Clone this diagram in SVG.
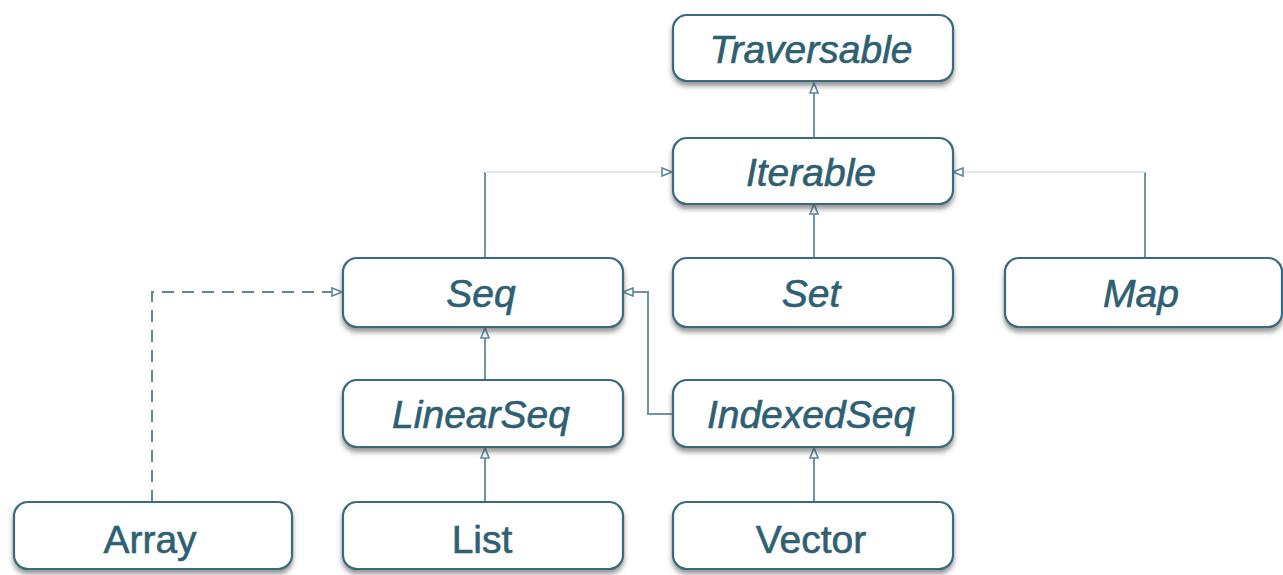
<svg xmlns="http://www.w3.org/2000/svg" width="1283" height="575" viewBox="0 0 1283 575">
<style>
.box{fill:#fff;stroke:#3b6b7c;stroke-width:2.2;filter:url(#sh)}
.t{font-family:"Liberation Sans",Arial,sans-serif;font-size:39px;fill:#2e5f72;stroke:#2e5f72;stroke-width:0.6;text-anchor:middle}
.i{font-style:italic}
.v{fill:none;stroke:#6f95a3;stroke-width:2}
.h{fill:none;stroke:#e2eaed;stroke-width:2}
.d{fill:none;stroke:#5f8797;stroke-width:2;stroke-dasharray:12 8}
</style>
<defs>
<filter id="sh" x="-10%" y="-20%" width="120%" height="150%">
<feDropShadow dx="0" dy="4" stdDeviation="2.5" flood-color="#404040" flood-opacity="0.55"/>
</filter>
<marker id="tri" markerWidth="12" markerHeight="10" refX="11" refY="5" orient="auto" markerUnits="userSpaceOnUse">
<path d="M1,1 L11,5 L1,9 Z" fill="#fff" stroke="#5f8797" stroke-width="1.6"/>
</marker>
</defs>
<g id="connectors">
<path class="v" d="M814,138 L814,83" marker-end="url(#tri)"/>
<path class="v" d="M485,258 L485,172"/>
<path class="h" d="M485,172 L672,172"/>
<path d="M660,172 L672,172" fill="none" stroke="none" marker-end="url(#tri)"/>
<path class="v" d="M1145,258 L1145,172"/>
<path class="h" d="M1145,172 L953,172"/>
<path d="M965,172 L953,172" fill="none" stroke="none" marker-end="url(#tri)"/>
<path class="v" d="M814,258 L814,204" marker-end="url(#tri)"/>
<path class="d" d="M152,502 L152,292 L342,292" marker-end="url(#tri)"/>
<path class="v" d="M485,380 L485,328" marker-end="url(#tri)"/>
<path class="v" d="M673,414 L648,414 L648,292 L623,292" marker-end="url(#tri)"/>
<path class="v" d="M485,502 L485,448" marker-end="url(#tri)"/>
<path class="v" d="M814,502 L814,448" marker-end="url(#tri)"/>
</g>
<g id="traversable"><rect class="box" x="673" y="15" width="280" height="66" rx="14"/><text class="t i" x="811" y="63">Traversable</text></g>
<g id="iterable"><rect class="box" x="673" y="138" width="280" height="66" rx="14"/><text class="t i" x="811" y="186">Iterable</text></g>
<g id="seq"><rect class="box" x="343" y="258" width="280" height="69" rx="14"/><text class="t i" x="481" y="307">Seq</text></g>
<g id="set"><rect class="box" x="673" y="258" width="280" height="69" rx="14"/><text class="t i" x="811" y="307">Set</text></g>
<g id="map"><rect class="box" x="1005" y="258" width="277" height="69" rx="14"/><text class="t i" x="1141" y="307">Map</text></g>
<g id="linearseq"><rect class="box" x="343" y="380" width="280" height="67" rx="14"/><text class="t i" x="481" y="428">LinearSeq</text></g>
<g id="indexedseq"><rect class="box" x="673" y="380" width="280" height="67" rx="14"/><text class="t i" x="811" y="428">IndexedSeq</text></g>
<g id="array"><rect class="box" x="14" y="502" width="278" height="67" rx="14"/><text class="t" x="150" y="553">Array</text></g>
<g id="list"><rect class="box" x="343" y="502" width="280" height="67" rx="14"/><text class="t" x="482" y="553">List</text></g>
<g id="vector"><rect class="box" x="673" y="502" width="280" height="67" rx="14"/><text class="t" x="811" y="553">Vector</text></g>
</svg>
